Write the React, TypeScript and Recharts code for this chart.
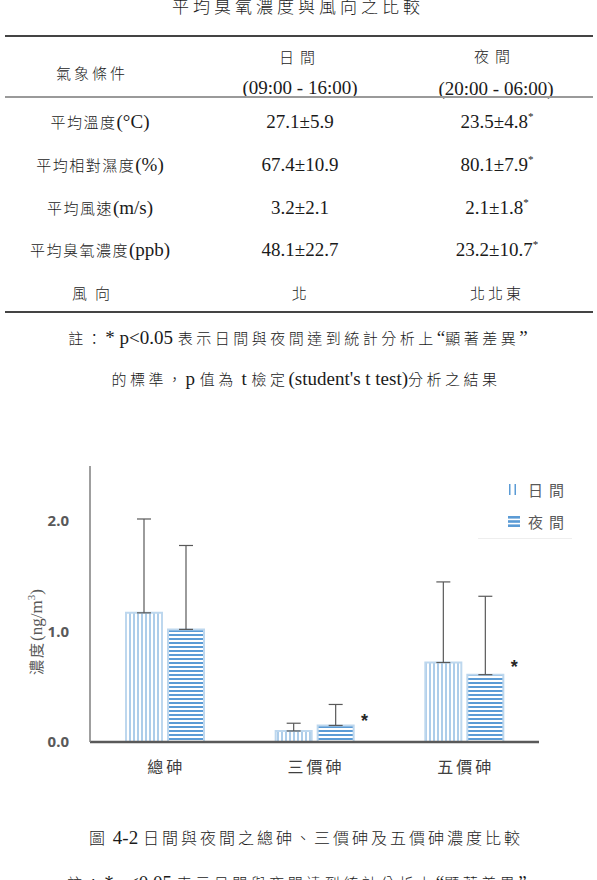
import React from 'react';
import { BarChart, Bar, XAxis, YAxis, ErrorBar, Legend, ReferenceDot } from 'recharts';

// ---------- data ----------
const categories = ['總砷', '三價砷', '五價砷'];
const dayMean = [1.17, 0.1, 0.72];
const dayErr = [0.85, 0.07, 0.73];
const nightMean = [1.02, 0.15, 0.61];
const nightErr = [0.76, 0.19, 0.71];
const sigMarkY: (number | null)[] = [null, 0.23, 0.72];
const yTicks = [0, 1, 2];
const seriesNames = ['日間', '夜間'];

const tableTitle = '平均臭氧濃度與風向之比較';
const headerLabel = '氣象條件';
const dayHeader = ['日間', '(09:00 - 16:00)'];
const nightHeader = ['夜間', '(20:00 - 06:00)'];
const rowLabels = ['平均溫度(°C)', '平均相對濕度(%)', '平均風速(m/s)', '平均臭氧濃度(ppb)', '風向'];
const dayValues = ['27.1±5.9', '67.4±10.9', '3.2±2.1', '48.1±22.7', '北'];
const nightValues = ['23.5±4.8', '80.1±7.9', '2.1±1.8', '23.2±10.7', '北北東'];
const nightSig = [true, true, true, true, false];
const tableNote = ['註：* p<0.05 表示日間與夜間達到統計分析上“顯著差異”', '的標準，p 值為 t 檢定(student\'s t test)分析之結果'];
const figCaption = '圖 4-2 日間與夜間之總砷、三價砷及五價砷濃度比較';
const figNote = '註：* p<0.05 表示日間與夜間達到統計分析上“顯著差異”';

const data = categories.map((c, i) => ({
  name: c,
  day: dayMean[i],
  dayE: [0, dayErr[i]],
  night: nightMean[i],
  nightE: [0, nightErr[i]],
}));

// ---------- styles ----------
const SERIF = '"Liberation Serif", "Times New Roman", serif';
const CJK = '"Noto Sans CJK TC", "Noto Sans CJK SC", sans-serif';
const BLUE = '#5b9bd5';
const LIGHT = '#bdd7ee';
const GRAY = '#595959';

const isCJK = (ch: string) => /[\u2E80-\u9FFF\uF900-\uFAFF\uFF00-\uFFEF\u3000-\u303F]/.test(ch);

function mixed(text: string, cjk: number, lat: number, sp: number) {
  const runs: [string, boolean][] = [];
  let cur = '';
  let curC: boolean | null = null;
  for (const ch of text) {
    const c = isCJK(ch);
    if (curC === null || c === curC) {
      cur += ch;
      curC = c;
    } else {
      runs.push([cur, curC]);
      cur = ch;
      curC = c;
    }
  }
  if (cur) runs.push([cur, curC as boolean]);
  return runs.map(([t, c], i) =>
    c ? (
      <span key={i} style={{ fontFamily: CJK, fontSize: cjk, letterSpacing: sp, fontWeight: 300 }}>{t}</span>
    ) : (
      <span key={i} style={{ fontFamily: SERIF, fontSize: lat }}>{t}</span>
    )
  );
}

function Txt({ x, y, text, cjk = 15, lat = 19, sp = 1.5, sup = false, color = '#1a1a1a' }: any) {
  return (
    <div
      style={{
        position: 'absolute',
        left: x,
        top: y,
        transform: 'translate(-50%,-50%)',
        whiteSpace: 'nowrap',
        lineHeight: 1,
        color,
      }}
    >
      {mixed(text, cjk, lat, sp)}
      {sup && <span style={{ fontFamily: SERIF, fontSize: 11, position: 'relative', top: -8 }}>*</span>}
    </div>
  );
}

function HLine({ y, w = 1.5, c = '#444' }: any) {
  return <div style={{ position: 'absolute', left: 5, width: 588, top: y - w / 2, height: w, background: c }} />;
}

const XTick = (props: any) => {
  const { x, y, payload } = props;
  return (
    <text x={x + 1.5} y={y + 31} textAnchor="middle" fill="#404040" style={{ fontFamily: CJK, fontSize: 16, letterSpacing: 3 }}>
      {payload.value}
    </text>
  );
};

const YTick = (props: any) => {
  const { x, y, payload } = props;
  return (
    <text x={x - 21} y={y + 5} textAnchor="end" fill={GRAY} fontWeight="bold" fontSize={15} fontFamily='"Noto Sans", "Open Sans", sans-serif'>
      {Number(payload.value).toFixed(1)}
    </text>
  );
};

const renderYLabel = () => (
  <text x={0} y={0} transform="translate(42,182) rotate(-90)" textAnchor="middle" fill={GRAY}>
    <tspan style={{ fontFamily: CJK, fontSize: 15, letterSpacing: 2 }}>濃度</tspan>
    <tspan style={{ fontFamily: SERIF, fontSize: 17 }}>(ng/m</tspan>
    <tspan style={{ fontFamily: SERIF, fontSize: 11 }} dy={-7}>3</tspan>
    <tspan style={{ fontFamily: SERIF, fontSize: 17 }} dy={7}>)</tspan>
  </text>
);

const renderLegend = () => (
  <div style={{ width: 94, height: 61, borderBottom: '1px solid #eeeeee', position: 'relative' }}>
    {seriesNames.map((n, i) => (
      <div key={n} style={{ position: 'absolute', left: 30, top: 3 + i * 32, height: 18, display: 'flex', alignItems: 'center' }}>
        <svg width={12} height={11} style={{ display: 'block' }}>
          {i === 0 ? (
            <>
              <rect x={1} y={0} width={1.5} height={11} fill={BLUE} />
              <rect x={6.5} y={0} width={1.5} height={11} fill={BLUE} />
            </>
          ) : (
            <>
              <rect x={0} y={0} width={12} height={2.6} fill={BLUE} />
              <rect x={0} y={4.2} width={12} height={2.6} fill={BLUE} />
              <rect x={0} y={8.4} width={12} height={2.6} fill={BLUE} />
            </>
          )}
        </svg>
        <span style={{ marginLeft: 8, fontFamily: CJK, fontSize: 15, letterSpacing: 6, color: GRAY, lineHeight: 1 }}>{n}</span>
      </div>
    ))}
  </div>
);

const renderStar = (p: any) => (
  <text x={p.cx + 50} y={p.cy + 10} textAnchor="middle" fontSize={18} fontWeight="bold" fontFamily='"Liberation Sans", Arial, sans-serif' fill="#262626">
    *
  </text>
);

export default function App() {
  const rowY = [121, 164, 207, 249, 293];
  return (
    <div style={{ position: 'absolute', left: 0, top: 0, width: 597, height: 880, background: '#fff', overflow: 'hidden' }}>
      <Txt x={298} y={6} text={tableTitle} cjk={17} sp={4} />
      <HLine y={36} />
      <Txt x={92} y={73} text={headerLabel} sp={3} />
      <Txt x={300} y={57} text={dayHeader[0]} sp={6} />
      <Txt x={300} y={87} text={dayHeader[1]} />
      <Txt x={495} y={56} text={nightHeader[0]} sp={6} />
      <Txt x={496} y={88} text={nightHeader[1]} />
      <HLine y={97} w={2} c="#9a9a9a" />
      {rowLabels.map((r, i) => (
        <Txt key={r} x={i === 4 ? 95 : 100} y={rowY[i]} text={r} sp={i === 4 ? 8 : 1.5} />
      ))}
      {dayValues.map((v, i) => (
        <Txt key={'d' + i} x={300} y={rowY[i]} text={v} />
      ))}
      {nightValues.map((v, i) => (
        <Txt key={'n' + i} x={497} y={rowY[i]} text={v} sup={nightSig[i]} sp={i === 4 ? 3 : 1.5} />
      ))}
      <HLine y={312} />
      <Txt x={298} y={337} text={tableNote[0]} cjk={15} lat={19} sp={3.5} />
      <Txt x={306} y={378} text={tableNote[1]} cjk={15} lat={19} sp={3.5} />

      <div style={{ position: 'absolute', left: 0, top: 450, width: 597, height: 340 }}>
        <BarChart width={597} height={340} data={data} margin={{ top: 16, right: 58, left: 0, bottom: 0 }} barGap={6} barCategoryGap="24%">
          <defs>
            <pattern id="pDay" patternUnits="userSpaceOnUse" width="4" height="4">
              <rect width="4" height="4" fill="#ffffff" />
              <rect x="1.5" y="0" width="1" height="4" fill={BLUE} />
            </pattern>
            <pattern id="pNight" patternUnits="userSpaceOnUse" width="4" height="4">
              <rect width="4" height="4" fill="#ffffff" />
              <rect x="0" y="0" width="4" height="2" fill={BLUE} />
            </pattern>
          </defs>
          <XAxis
            dataKey="name"
            axisLine={{ stroke: GRAY, strokeWidth: 2.5 }}
            tickLine={false}
            tickSize={0}
            tickMargin={0}
            height={48}
            interval={0}
            tick={<XTick />}
          />
          <YAxis
            domain={[0, 2.5]}
            ticks={yTicks}
            width={90}
            axisLine={{ stroke: '#7f7f7f', strokeWidth: 1.5 }}
            tickLine={false}
            tickSize={0}
            tickMargin={0}
            tick={<YTick />}
            label={renderYLabel}
          />
          <Bar dataKey="day" name={seriesNames[0]} fill="url(#pDay)" stroke={LIGHT} strokeWidth={2} barSize={36} isAnimationActive={false}>
            <ErrorBar dataKey="dayE" direction="y" width={7} stroke={GRAY} strokeWidth={1.2} />
          </Bar>
          <Bar dataKey="night" name={seriesNames[1]} fill="url(#pNight)" stroke={LIGHT} strokeWidth={2} barSize={36} isAnimationActive={false}>
            <ErrorBar dataKey="nightE" direction="y" width={7} stroke={GRAY} strokeWidth={1.2} />
          </Bar>
          <Legend
            layout="vertical"
            align="center"
            verticalAlign="middle"
            wrapperStyle={{ left: 478, top: 27, width: 94, height: 62 }}
            content={renderLegend}
          />
          {categories.map((c, i) =>
            sigMarkY[i] != null ? (
              <ReferenceDot key={c} x={c} y={sigMarkY[i] as number} r={0} shape={renderStar} ifOverflow="visible" />
            ) : null
          )}
        </BarChart>
      </div>

      <Txt x={306} y={837} text={figCaption} cjk={16} lat={19} sp={3} />
      <Txt x={297} y={882} text={figNote} cjk={15} lat={19} sp={3.5} />
    </div>
  );
}
